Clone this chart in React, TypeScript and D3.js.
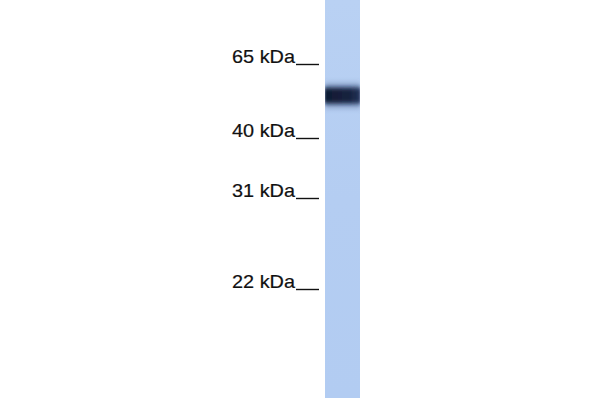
import React from "react";
import * as d3 from "d3";

const markerLabels = ["65 kDa", "40 kDa", "31 kDa", "22 kDa"];
const markerKDa = [65, 40, 31, 22];
const bandKDa = [54];
const bandIntensity = [1];

const W = 600;
const H = 400;

export default function App() {
  // piecewise scale mapping molecular weight to migration position
  const y = d3.scaleLinear().domain(markerKDa).range([63, 137, 197, 288]);
  const lane = { x0: 325, x1: 360, y0: 0, y1: 398 };
  return (
    <svg width={W} height={H} style={{ position: "absolute", left: 0, top: 0, background: "#fff" }}>
      <defs>
        <filter id="blur" x="-20%" y="-100%" width="140%" height="300%">
          <feGaussianBlur stdDeviation="1.2 2" />
        </filter>
        <filter id="blur2" x="-20%" y="-100%" width="140%" height="300%">
          <feGaussianBlur stdDeviation="2 3" />
        </filter>
        <linearGradient id="laneGrad" x1="0" x2="0" y1="0" y2="1">
          <stop offset="0" stopColor="#b9d1f3" />
          <stop offset="0.5" stopColor="#b4cdf2" />
          <stop offset="1" stopColor="#b2ccf2" />
        </linearGradient>
        <linearGradient id="bandGrad" x1="0" x2="1" y1="0" y2="0">
          <stop offset="0" stopColor="#101a33" />
          <stop offset="0.7" stopColor="#16223f" />
          <stop offset="1" stopColor="#24345a" />
        </linearGradient>
      </defs>
      <rect x={0} y={0} width={W} height={H} fill="#fff" />
      <rect x={lane.x0} y={lane.y0} width={lane.x1 - lane.x0} height={lane.y1 - lane.y0} fill="url(#laneGrad)" />
      {bandKDa.map((k, i) => (
        <g key={i} opacity={bandIntensity[i]}>
          <rect x={lane.x0} y={y(k) - 11} width={lane.x1 - lane.x0} height={22} fill="#3d5380" filter="url(#blur2)" opacity={0.6} />
          <rect x={lane.x0} y={y(k) - 7.5} width={lane.x1 - lane.x0} height={15} fill="url(#bandGrad)" filter="url(#blur)" />
        </g>
      ))}
      <rect x={lane.x0 - 6} y={0} width={6} height={H} fill="#fff" />
      <rect x={lane.x1} y={0} width={8} height={H} fill="#fff" />
      {markerKDa.map((k, i) => (
        <g key={k}>
          <text
            x={232}
            y={y(k)}
            fontFamily="Liberation Sans, Arial, sans-serif"
            fontSize={18.5}
            fill="#111"
            stroke="#111"
            strokeWidth={0.2}
            textLength={63}
            lengthAdjust="spacingAndGlyphs"
          >
            {markerLabels[i]}
          </text>
          <line x1={296} x2={319} y1={y(k) + 1.5} y2={y(k) + 1.5} stroke="#111" strokeWidth={1.4} />
        </g>
      ))}
    </svg>
  );
}
